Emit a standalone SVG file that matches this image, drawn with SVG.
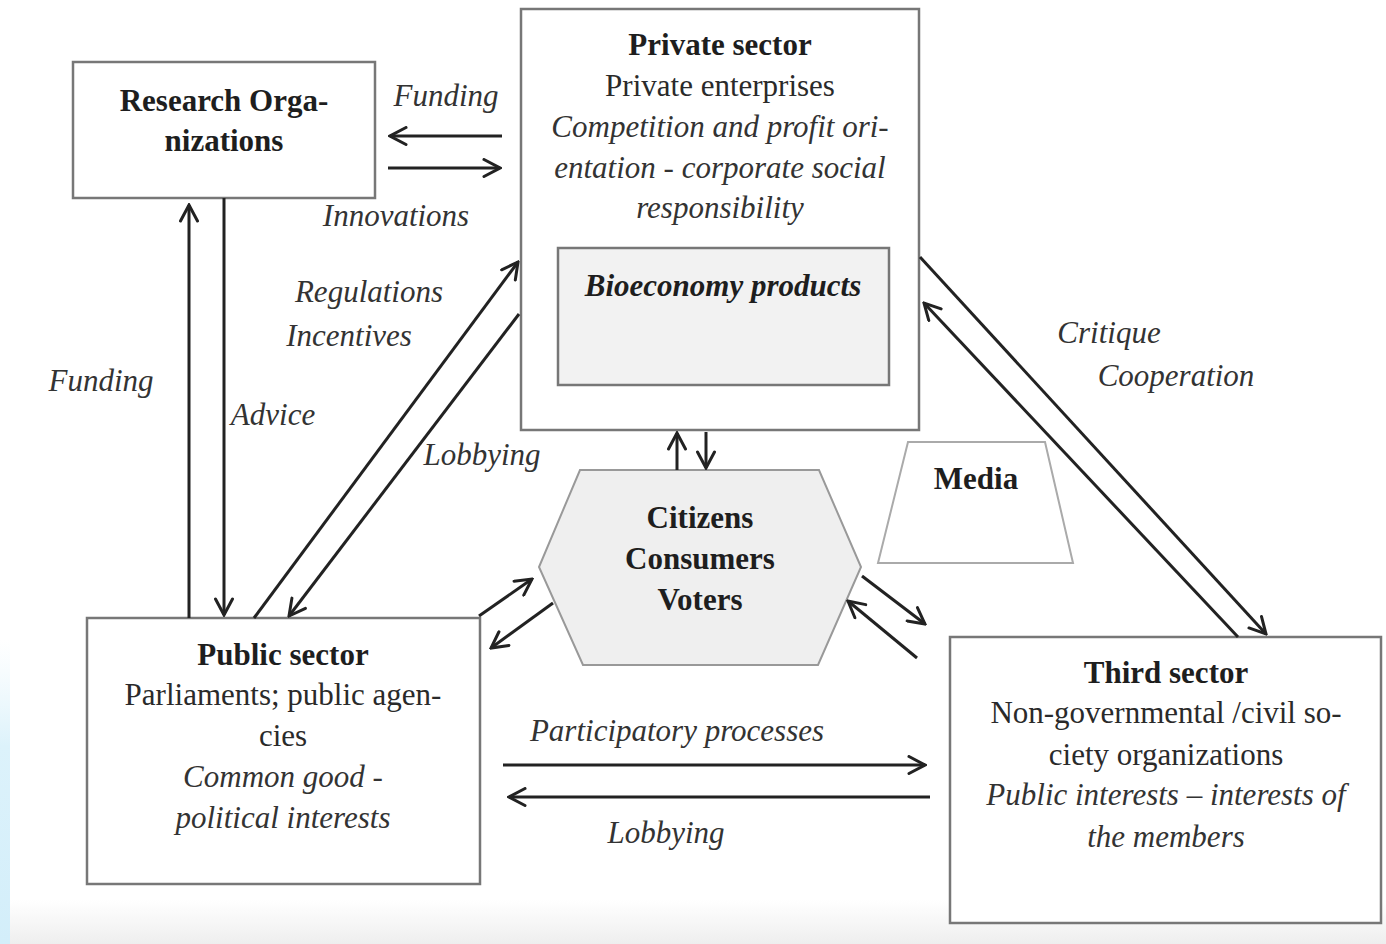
<svg xmlns="http://www.w3.org/2000/svg" width="1386" height="944" viewBox="0 0 1386 944">
<defs>
<marker id="ah" viewBox="0 0 20 20" refX="18" refY="10" markerWidth="20" markerHeight="20" markerUnits="userSpaceOnUse" orient="auto">
<path d="M2,1.5 L18,10 L2,18.5" fill="none" stroke="#222" stroke-width="3" stroke-linecap="round" stroke-linejoin="miter"/>
</marker>
<linearGradient id="bottomBand" x1="0" y1="0" x2="0" y2="1">
<stop offset="0" stop-color="#ffffff"/>
<stop offset="1" stop-color="#eeeeee"/>
</linearGradient>
<linearGradient id="leftStrip" x1="0" y1="0" x2="0" y2="1">
<stop offset="0" stop-color="#e6f6fc" stop-opacity="0"/>
<stop offset="0.35" stop-color="#dcf2fb"/>
<stop offset="1" stop-color="#d3eefa"/>
</linearGradient>
</defs>
<style>
text { font-family: "Liberation Serif", "Times New Roman", serif; font-size: 31px; text-anchor: middle; fill: #2a2a2a; }
.b { font-weight: bold; fill: #1e1e1e; }
.i { font-style: italic; fill: #333; }
.bi { font-weight: bold; font-style: italic; fill: #1e1e1e; }
.box { fill: #ffffff; stroke: #777; stroke-width: 2.5; }
.conn line { stroke: #222; stroke-width: 3; marker-end: url(#ah); }
</style>
<rect x="0" y="0" width="1386" height="944" fill="#ffffff"/>
<rect x="0" y="900" width="1386" height="44" fill="url(#bottomBand)"/>
<rect x="0" y="640" width="10" height="304" fill="url(#leftStrip)"/>

<g id="research">
<rect class="box" x="73" y="62" width="302" height="136"/>
<text class="b" x="224" y="111">Research Orga-</text>
<text class="b" x="224" y="151">nizations</text>
</g>

<g id="private">
<rect class="box" x="521" y="9" width="398" height="421"/>
<text class="b" x="720" y="55">Private sector</text>
<text x="720" y="96">Private enterprises</text>
<text class="i" x="720" y="137">Competition and profit ori-</text>
<text class="i" x="720" y="178">entation - corporate social</text>
<text class="i" x="720" y="218">responsibility</text>
</g>

<g id="bioeconomy">
<rect x="558" y="248" width="331" height="137" fill="#f2f2f2" stroke="#777" stroke-width="2.5"/>
<text class="bi" x="723" y="296">Bioeconomy products</text>
</g>

<g id="citizens">
<polygon points="580,470 819,470 861,567 818,665 583,665 539,567" fill="#efefef" stroke="#999" stroke-width="2"/>
<text class="b" x="700" y="528">Citizens</text>
<text class="b" x="700" y="569">Consumers</text>
<text class="b" x="700" y="610">Voters</text>
</g>

<g id="media">
<polygon points="908,442 1045,442 1073,563 878,563" fill="#ffffff" stroke="#aaa" stroke-width="2"/>
<text class="b" x="976" y="489">Media</text>
</g>

<g id="public">
<rect class="box" x="87" y="618" width="393" height="266"/>
<text class="b" x="283" y="665">Public sector</text>
<text x="283" y="705">Parliaments; public agen-</text>
<text x="283" y="746">cies</text>
<text class="i" x="283" y="787">Common good -</text>
<text class="i" x="283" y="828">political interests</text>
</g>

<g id="third">
<rect class="box" x="950" y="637" width="431" height="286"/>
<text class="b" x="1166" y="683">Third sector</text>
<text x="1166" y="723">Non-governmental /civil so-</text>
<text x="1166" y="765">ciety organizations</text>
<text class="i" x="1166" y="805">Public interests – interests of</text>
<text class="i" x="1166" y="847">the members</text>
</g>

<g id="connectors" class="conn">
<line x1="502" y1="136" x2="390" y2="136"/>
<line x1="388" y1="168" x2="500" y2="168"/>
<line x1="189" y1="618" x2="189" y2="205"/>
<line x1="224" y1="198" x2="224" y2="615"/>
<line x1="254" y1="618" x2="518" y2="262"/>
<line x1="519" y1="314" x2="289" y2="616"/>
<line x1="677" y1="470" x2="677" y2="433"/>
<line x1="706" y1="432" x2="706" y2="468"/>
<line x1="479" y1="616" x2="532" y2="579"/>
<line x1="553" y1="603" x2="491" y2="648"/>
<line x1="862" y1="576" x2="925" y2="624"/>
<line x1="917" y1="658" x2="848" y2="601"/>
<line x1="920" y1="257" x2="1266" y2="634"/>
<line x1="1238" y1="637" x2="924" y2="303"/>
<line x1="503" y1="765" x2="925" y2="765"/>
<line x1="930" y1="797" x2="509" y2="797"/>
</g>

<g id="labels">
<text class="i" x="446" y="106">Funding</text>
<text class="i" x="396" y="226">Innovations</text>
<text class="i" x="369" y="302">Regulations</text>
<text class="i" x="349" y="346">Incentives</text>
<text class="i" x="101" y="391">Funding</text>
<text class="i" x="273" y="425">Advice</text>
<text class="i" x="482" y="465">Lobbying</text>
<text class="i" x="1109" y="343">Critique</text>
<text class="i" x="1176" y="386">Cooperation</text>
<text class="i" x="677" y="741">Participatory processes</text>
<text class="i" x="666" y="843">Lobbying</text>
</g>
</svg>
